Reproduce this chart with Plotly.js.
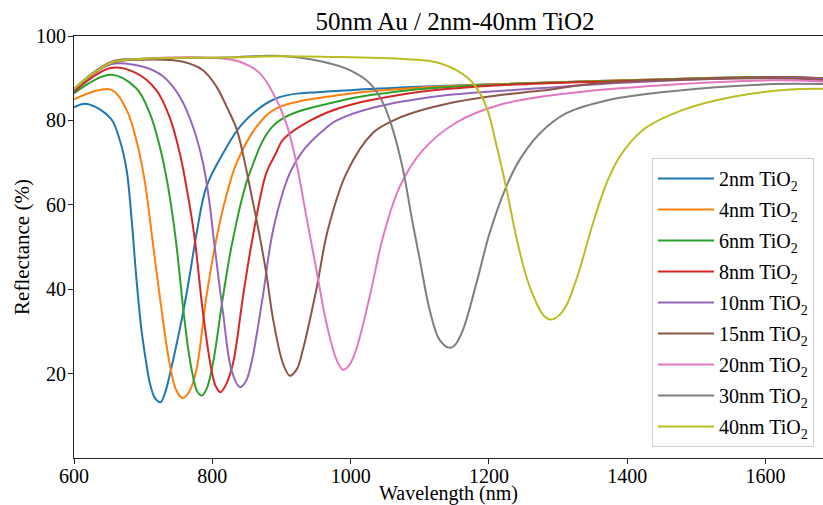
<!DOCTYPE html>
<html>
<head>
<meta charset="utf-8">
<script src="https://cdn.plot.ly/plotly-3.0.1.min.js"></script>
<style>html,body{margin:0;padding:0;background:#fff;}#chart{width:823px;height:505px;}</style>
</head>
<body>
<div id="chart"></div>
<script>
// Series data (wavelength in nm, reflectance in %)
const labels = ["2nm TiO<sub>2</sub>","4nm TiO<sub>2</sub>","6nm TiO<sub>2</sub>","8nm TiO<sub>2</sub>","10nm TiO<sub>2</sub>","15nm TiO<sub>2</sub>","20nm TiO<sub>2</sub>","30nm TiO<sub>2</sub>","40nm TiO<sub>2</sub>"];

const x2  = [600, 619, 653, 666, 676, 683, 690, 697.5, 704, 709.5, 716.7, 725, 732, 738, 748, 757.6, 767, 777, 791.5, 815.5, 844, 892, 984, 1088, 1216, 1393, 1610, 1683];
const y2  = [83.1, 83.9, 80.5, 75.4, 68.3, 57.2, 43, 30.4, 23, 17.9, 14.3, 13.2, 15.6, 19.4, 26.7, 34.4, 43, 53, 64.3, 72.2, 79.3, 85.2, 87.0, 87.9, 88.6, 89.5, 90.3, 90.0];

const x4  = [600, 653, 676, 690, 702, 714, 724, 738, 748, 757.6, 767, 777, 791.5, 806, 820, 835, 864, 892, 984, 1088, 1216, 1393, 1610, 1683];
const y4  = [85.0, 87.3, 82.5, 75.4, 65.9, 51, 38.3, 22.6, 16, 14.2, 15.8, 20.9, 38.3, 52, 62, 69.9, 78.5, 82.8, 86.0, 87.6, 88.6, 89.5, 90.3, 90.0];

const x6  = [600, 653, 690, 709.5, 724, 736, 747, 757.6, 765, 772, 778, 785, 792, 801, 815.5, 830, 854, 892, 984, 1088, 1216, 1393, 1610, 1683];
const y6  = [86.4, 90.8, 87.6, 81.7, 73.8, 64.3, 52, 35.9, 26, 19.4, 15.8, 14.8, 16.5, 22.5, 38.3, 52, 67.5, 79.3, 84.6, 87.2, 88.5, 89.4, 90.3, 90.0];

const x8  = [600, 653, 690, 719, 738, 753, 765, 774.5, 786.5, 798.7, 805, 811.7, 820, 830, 844.4, 857, 878, 892, 902, 942, 985, 1088, 1216, 1393, 1610, 1683];
const y8  = [86.8, 92.4, 91.2, 87.2, 80.9, 72.2, 62.0, 52, 34.4, 20.9, 17, 15.6, 17.5, 22.5, 38.3, 51, 67.5, 72.2, 75.4, 80, 83, 86.5, 88.3, 89.3, 90.2, 89.9];

const x10 = [600, 653, 700, 729, 753, 772, 786.5, 796, 802, 815.5, 827.6, 839.6, 848, 856.5, 873, 888, 912, 931, 960, 980, 1032, 1129, 1273, 1393, 1610, 1683];
const y10 = [87.2, 93.3, 92.7, 90.4, 85.6, 78.5, 69.9, 60.4, 52, 34.4, 20.9, 16.8, 18, 22.5, 38.3, 54.1, 67.5, 72.8, 77.6, 80, 83, 85.8, 87.6, 88.9, 90.1, 89.8];

const x15 = [600, 653, 700, 757.6, 786.5, 806, 820, 835, 847, 857, 868, 878, 888, 902, 912, 922, 931, 950.5, 967, 994, 1032, 1062, 1088, 1153, 1216, 1273, 1360, 1610, 1683];
const y15 = [87.2, 93.5, 94.4, 93.9, 91.9, 88.0, 83.5, 78, 70, 62, 53, 43.8, 32.8, 22.5, 19.5, 21, 25.7, 40, 54, 67.5, 77, 80, 81.7, 84.4, 86, 87, 88.8, 90, 89.6];

const x20 = [600, 653, 700, 800, 840, 868.5, 888, 907, 921.6, 936, 950.5, 965, 979.5, 989, 998, 1008, 1027.6, 1047, 1071, 1104.7, 1153, 1216, 1312, 1457, 1610, 1683];
const y20 = [87.5, 93.8, 94.6, 94.8, 93.9, 91.2, 86.4, 79.3, 69.9, 57.2, 44.6, 32, 23.3, 20.9, 22, 25.7, 38.3, 52.5, 64.3, 73, 79.5, 83.7, 86.4, 88.4, 89.5, 89.2];

const x30 = [600, 653, 700, 821, 892, 960, 998.7, 1027.6, 1047, 1061, 1075.8, 1088, 1100, 1114.4, 1128.6, 1143.5, 1152, 1162.5, 1182, 1201, 1225, 1244.5, 1273.5, 1312, 1374.7, 1456.7, 1610, 1683];
const y30 = [87.5, 93.8, 94.6, 94.9, 95.3, 93.9, 91.9, 88.8, 84.1, 77.8, 68.3, 57.2, 47, 35, 28, 26.1, 27, 30.4, 41.5, 53.3, 64.3, 70.7, 76.9, 81.7, 84.9, 86.8, 88.6, 88.6];

const x40 = [600, 653, 700, 821, 892, 984, 1081.6, 1114, 1130, 1153, 1177, 1196, 1211, 1225, 1240, 1254, 1268.7, 1280, 1290, 1300, 1312, 1321, 1331, 1350.5, 1370, 1389, 1423, 1480.7, 1553, 1625, 1683];
const y40 = [87.5, 93.6, 94.6, 94.9, 95.2, 95.0, 94.5, 94.1, 93.5, 91.9, 88.8, 83.3, 74, 64, 52, 43, 36.7, 33.6, 32.8, 33.6, 36.2, 39.8, 44.6, 55.7, 65.1, 71.4, 77.8, 82.5, 85.6, 87.2, 87.5];

const xs = [x2, x4, x6, x8, x10, x15, x20, x30, x40];
const ys = [y2, y4, y6, y8, y10, y15, y20, y30, y40];
const colors = ["#1f77b4","#ff7f0e","#2ca02c","#d62728","#9467bd","#8c564b","#e377c2","#7f7f7f","#bcbd22"];

const FONT = "Liberation Serif, Times New Roman, serif";

const traces = xs.map((x, i) => ({
  x: x, y: ys[i], type: "scatter", mode: "lines", name: labels[i],
  legendgroup: "g" + i,
  line: {color: colors[i], width: 2, shape: "spline", smoothing: 1}
}));

const layout = {
  width: 823, height: 505,
  margin: {l: 74, r: 0, t: 36, b: 47},
  paper_bgcolor: "#fff", plot_bgcolor: "#fff",
  font: {family: FONT, size: 20, color: "#000"},
  title: {text: "50nm Au / 2nm-40nm TiO2", font: {family: FONT, size: 25, color: "#000"},
          x: 455/823, xref: "container", xanchor: "center", y: 1 - 21/505, yref: "container", yanchor: "middle"},
  xaxis: {range: [600, 1683], tickvals: [600, 800, 1000, 1200, 1400, 1600], ticks: "outside", ticklen: 5, tickcolor: "#222",
          showline: true, linecolor: "#222", linewidth: 1, mirror: true, showgrid: false, zeroline: false,
          ticklabelstandoff: -5,
          tickfont: {family: FONT, size: 20, color: "#000"},
          title: {text: "Wavelength (nm)", font: {family: FONT, size: 20, color: "#000"}, standoff: 6}},
  yaxis: {range: [0, 100], tickvals: [20, 40, 60, 80, 100], ticks: "outside", ticklen: 5, tickcolor: "#222",
          showline: true, linecolor: "#222", linewidth: 1, mirror: false, showgrid: false, zeroline: false,
          ticklabelstandoff: -2,
          tickfont: {family: FONT, size: 20, color: "#000"},
          title: {text: "Reflectance (%)", font: {family: FONT, size: 21, color: "#000"}, standoff: 0}},
  showlegend: true,
  legend: {x: (652-74)/749, y: (458-158)/422, xanchor: "left", yanchor: "top",
           bgcolor: "#ffffff", bordercolor: "#d0d0d0", borderwidth: 1,
           itemwidth: 56,
           font: {family: FONT, size: 20, color: "#000"}, tracegroupgap: 2, traceorder: "grouped"}
};

Plotly.newPlot("chart", traces, layout, {displayModeBar: false, staticPlot: true});
</script>
</body>
</html>
